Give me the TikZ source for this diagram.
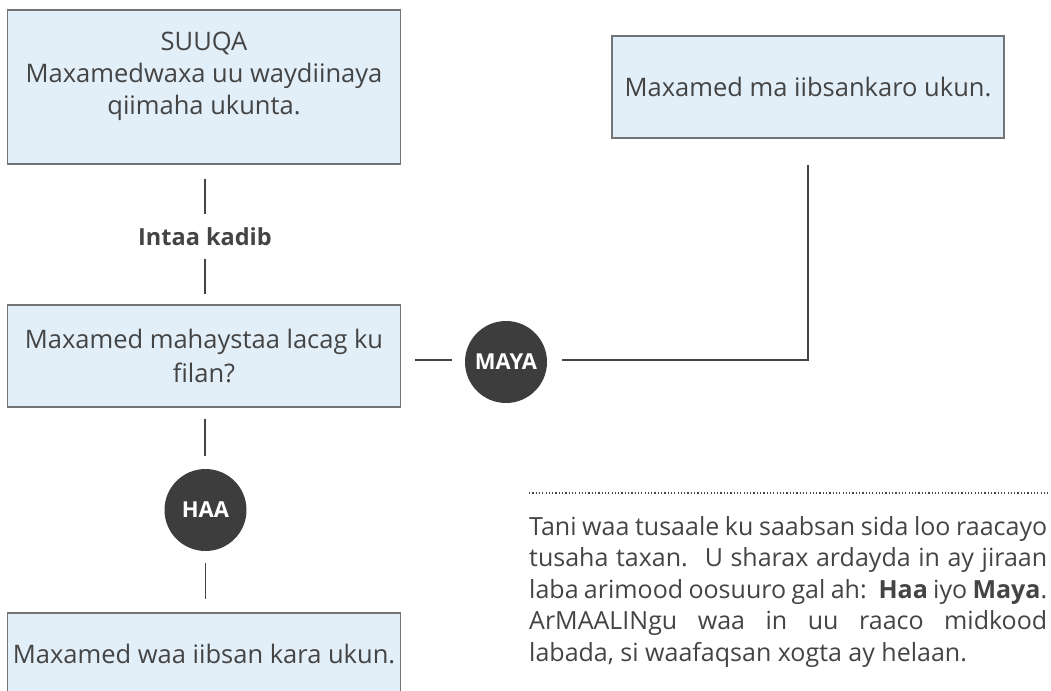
\documentclass[tikz,border=0pt]{standalone}
\usepackage{fontspec}
\setmainfont{Open Sans}
\usetikzlibrary{calc}
\definecolor{boxfill}{HTML}{E2EEF8}
\definecolor{boxline}{HTML}{747474}
\definecolor{ink}{HTML}{444444}
\definecolor{badgefill}{HTML}{3D3D3D}
\begin{document}
\begin{tikzpicture}[x=1pt,y=-1pt,
  box/.style={draw=boxline, line width=1.2pt, fill=boxfill, inner sep=0pt,
    text=ink, align=center, font=\fontsize{25.5}{34}\selectfont},
  boxtext/.style={text=ink, align=center, inner sep=0pt, font=\fontsize{25.5}{32}\selectfont},
  badge/.style={circle, fill=badgefill, minimum size=82pt, inner sep=0pt,
    text=white, font=\bfseries\fontsize{22}{26}\selectfont},
  lbl/.style={text=ink, inner sep=0pt, font=\bfseries\fontsize{23.5}{28}\selectfont},
  link/.style={draw=ink, line width=1.2pt},
  para/.style={text=ink, inner sep=0pt, align=left, font=\fontsize{25}{31.5}\selectfont}]
\useasboundingbox (0,0) rectangle (1051,690);
% boxes
\node[box, minimum width=393pt, minimum height=154pt] (b1) at (204,87) {};
\node[boxtext] (b1t) at (204,76) {SUUQA\\Maxamedwaxa uu waydiinaya\\qiimaha ukunta.};
\node[box, minimum width=393pt, minimum height=102pt] (b2) at (204,356)
  {Maxamed mahaystaa lacag ku\\filan?};
\node[box, minimum width=392pt, minimum height=102pt] (b3) at (808,87)
  {Maxamed ma iibsankaro ukun.};
\node[box, minimum width=393pt, minimum height=82pt] (b4) at (204,654)
  {Maxamed waa iibsan kara ukun.};
% labels and badges
\node[lbl] (kadib) at (205,237) {Intaa kadib};
\node[badge] (haa) at (205.5,510) {HAA};
\node[badge] (maya) at (506,362) {MAYA};
% connectors
\draw[link] (b1.south) ++(1,14) -- ++(0,35);
\draw[link] (b2.north) ++(1,-10) -- ++(0,-35);
\draw[link] (b2.south) ++(1,11) -- ++(0,37);
\draw[link] (haa.south) ++(0,12) -- ++(0,36);
\draw[link] (maya.west) ++(-13,-2) -- ++(-37,0);
\draw[link] (maya.east) ++(15,-2) -| ($(b3.south)+(0,26)$);
% note
\draw[ink, line width=1.3pt, dash pattern=on 1.2pt off 2.1pt] (529,493) -- (1049,493);
\node[para, anchor=north west] (note) at (529,516) {%
\makebox[518pt][s]{Tani waa tusaale ku saabsan sida loo raacayo}\\
\makebox[518pt][s]{tusaha taxan.\hspace{0.2em} U sharax ardayda in ay jiraan}\\
\makebox[518pt][s]{laba arimood oosuuro gal ah:\hspace{0.15em} \textbf{Haa} iyo \textbf{Maya}.}\\
\makebox[518pt][s]{ArMAALINgu waa in uu raaco midkood}\\
labada, si waafaqsan xogta ay helaan.};
\end{tikzpicture}
\end{document}
